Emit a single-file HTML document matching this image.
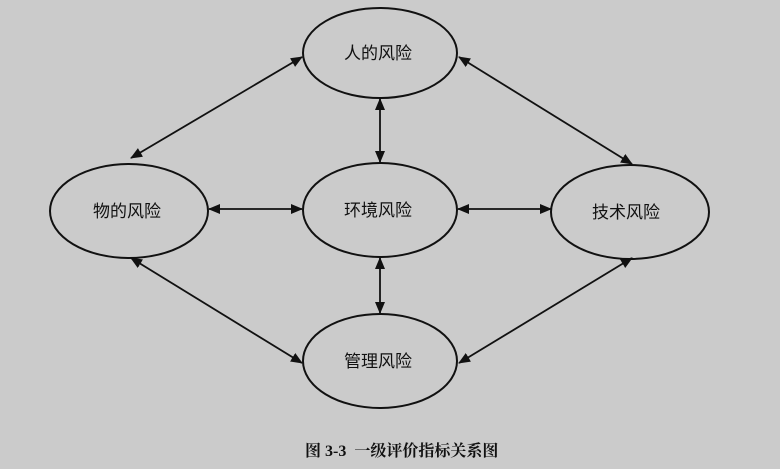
<!DOCTYPE html>
<html><head><meta charset="utf-8"><style>
html,body{margin:0;padding:0;background:#cbcbcb;width:780px;height:469px;overflow:hidden}
</style></head><body>
<svg width="780" height="469" viewBox="0 0 780 469" xmlns="http://www.w3.org/2000/svg">
<defs>
<marker id="a" markerWidth="12" markerHeight="10" refX="11" refY="5" orient="auto-start-reverse" markerUnits="userSpaceOnUse">
<path d="M0,0 L12,5 L0,10 Z" fill="#111"/>
</marker>
</defs>
<rect width="780" height="469" fill="#cbcbcb"/>
<g fill="none" stroke="#111" stroke-width="2">
<ellipse cx="380" cy="53" rx="77" ry="45"/>
<ellipse cx="380" cy="210" rx="77" ry="47"/>
<ellipse cx="129" cy="211" rx="79" ry="47"/>
<ellipse cx="630" cy="212" rx="79" ry="47"/>
<ellipse cx="380" cy="361" rx="77" ry="47"/>
</g>
<g stroke="#111" stroke-width="1.8" marker-start="url(#a)" marker-end="url(#a)">
<line x1="131" y1="158" x2="302" y2="57"/>
<line x1="459" y1="57" x2="632" y2="164"/>
<line x1="131" y1="258" x2="302" y2="363"/>
<line x1="459" y1="363" x2="632" y2="258"/>
<line x1="380" y1="99" x2="380" y2="162"/>
<line x1="380" y1="258" x2="380" y2="313"/>
<line x1="209" y1="209" x2="302" y2="209"/>
<line x1="458" y1="209" x2="551" y2="209"/>
</g>
<g font-family="'Liberation Sans','Noto Sans CJK SC',sans-serif" font-size="17" fill="#111" text-anchor="middle">
<text x="378" y="59">人的风险</text>
<text x="378" y="216">环境风险</text>
<text x="127" y="217">物的风险</text>
<text x="626" y="218">技术风险</text>
<text x="378" y="367">管理风险</text>
</g>
<text x="305" y="456" xml:space="preserve" font-family="'Liberation Serif','Noto Serif CJK SC',serif" font-size="16" font-weight="bold" fill="#111">图 3-3  一级评价指标关系图</text>
</svg>
</body></html>
